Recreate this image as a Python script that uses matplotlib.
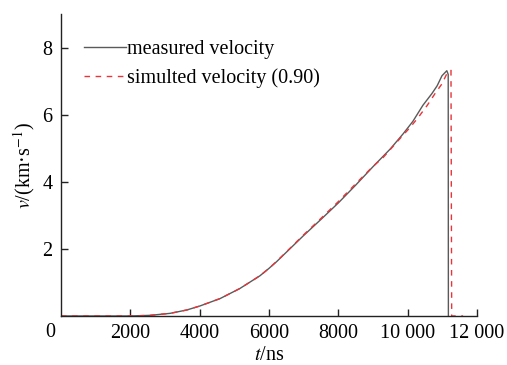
import matplotlib
matplotlib.use('Agg')
import matplotlib.pyplot as plt

# measured velocity
t_meas = [0, 2000, 2570, 3150, 3630, 4010, 4590, 5160, 5740, 6000, 6220, 6500,
          7000, 7500, 8000, 8500, 9000, 9500, 9870, 10150, 10440, 10700,
          10850, 10990, 11130, 11170, 11175]
v_meas = [0, 0, 0.02, 0.08, 0.18, 0.30, 0.52, 0.82, 1.20, 1.42, 1.62, 1.90,
          2.40, 2.88, 3.37, 3.90, 4.45, 4.98, 5.43, 5.80, 6.28, 6.63,
          6.86, 7.16, 7.31, 7.2, 0]

# simulated velocity (0.90)
t_sim = [0, 2000, 2570, 3150, 3630, 4010, 4590, 5160, 5740, 6000, 6220, 6500,
         7000, 7500, 8000, 8500, 9000, 9290, 9780, 10070, 10300, 10560,
         10790, 10990, 11130, 11250, 11270, 11600]
v_sim = [0, 0, 0.02, 0.08, 0.18, 0.30, 0.52, 0.82, 1.20, 1.42, 1.63, 1.91,
         2.42, 2.91, 3.41, 3.94, 4.46, 4.72, 5.29, 5.62, 5.91, 6.27,
         6.63, 6.92, 7.22, 7.32, 0, 0]

x_ticks = [2000, 4000, 6000, 8000, 10000, 12000]
x_labels = ['2000', '4000', '6000', '8000', '10 000', '12 000']
y_ticks = [2, 4, 6, 8]

plt.rcParams['font.family'] = 'Liberation Serif'
plt.rcParams['mathtext.fontset'] = 'stix'

fig = plt.figure(figsize=(5.07, 3.65), dpi=100)
ax = fig.add_axes([0.1203, 0.1342, 0.8205, 0.8274])

ax.plot(t_meas, v_meas, color='#5a5a5a', lw=1.0, label='measured velocity')
ax.plot(t_sim, v_sim, color='#e8343a', lw=1.0, ls=(0, (4, 4)),
        label='simulted velocity (0.90)')

ax.set_xlim(0, 12000)
ax.set_ylim(0, 9)
ax.set_xticks(x_ticks)
ax.set_xticklabels(x_labels)
ax.set_yticks(y_ticks)
ax.tick_params(direction='in', length=5, width=1, labelsize=14.5, pad=6,
               color='#222222')
for s in ['top', 'right']:
    ax.spines[s].set_visible(False)
for s in ['left', 'bottom']:
    ax.spines[s].set_linewidth(1.0)
    ax.spines[s].set_color('#222222')

ax.text(-0.027, -0.055, '0', transform=ax.transAxes, fontsize=14.5,
        ha='center', va='center')

ax.set_xlabel('$t$/ns', fontsize=14.5, labelpad=2)
ax.set_ylabel('$v$/(km·s$^{-1}$)', fontsize=14.5, labelpad=4)

ax.legend(loc='upper left', bbox_to_anchor=(0.035, 0.94), frameon=False,
          fontsize=14.5, handlelength=2.1, handletextpad=0.05,
          borderaxespad=0, labelspacing=0.45)

plt.savefig('out.png', dpi=100)
